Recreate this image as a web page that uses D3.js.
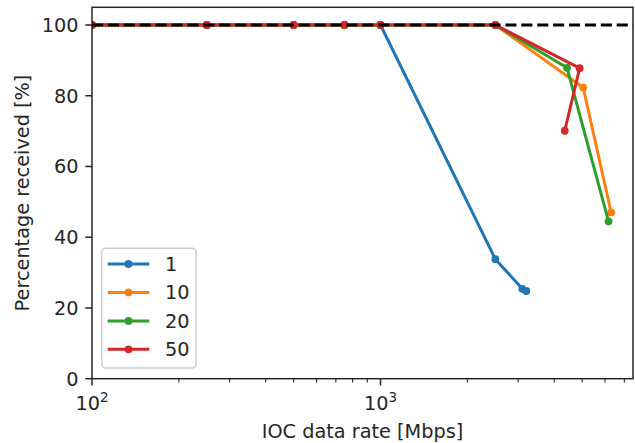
<!DOCTYPE html>
<html><head><meta charset="utf-8">
<script src="https://cdn.jsdelivr.net/npm/d3@7"></script>
<style>body{margin:0;background:#fff}svg{display:block}text{font-family:"DejaVu Sans",sans-serif;fill:#262626}</style>
</head><body><svg id="c" width="635" height="443"></svg>
<script>
const seriesNames = ["1", "10", "20", "50"];
const colors = ["#1f77b4", "#ff7f0e", "#2ca02c", "#d62728"];
const x1 = [100, 250, 500, 750, 1000, 2500, 3100, 3200];
const y1 = [100, 100, 100, 100, 100, 33.8, 25.4, 24.8];
const x10 = [100, 250, 500, 750, 1000, 2500, 5040, 6300];
const y10 = [100, 100, 100, 100, 100, 100, 82.3, 47.0];
const x20 = [100, 250, 500, 750, 1000, 2500, 4430, 6170];
const y20 = [100, 100, 100, 100, 100, 100, 87.9, 44.5];
const x50 = [100, 250, 500, 750, 1000, 2500, 4900, 4350];
const y50 = [100, 100, 100, 100, 100, 100, 87.8, 70.1];
const yTicks = [0, 20, 40, 60, 80, 100];
const xMajor = [100, 1000];
const xMinor = [200, 300, 400, 500, 600, 700, 800, 900, 2000, 3000, 4000, 5000, 6000, 7000];
const refLine = 100;

const series = [[x1, y1], [x10, y10], [x20, y20], [x50, y50]];
const fs = 19.3;
const L = 92, R = 633, T = 7.3, B = 378.7;
const svg = d3.select("#c");
const x = d3.scaleLog().domain([100, 7500]).range([L, R]);
const y = d3.scaleLinear().domain([0, 105]).range([B, T]);

svg.append("defs").append("clipPath").attr("id", "clip")
  .append("rect").attr("x", L).attr("y", T).attr("width", R - L).attr("height", B - T);

const g = svg.append("g").attr("clip-path", "url(#clip)");
const line = d3.line().x(d => x(d[0])).y(d => y(d[1]));
series.forEach((s, i) => {
  const pts = s[0].map((v, j) => [v, s[1][j]]);
  g.append("path").attr("d", line(pts)).attr("fill", "none")
    .attr("stroke", colors[i]).attr("stroke-width", 3).attr("stroke-linejoin", "round").attr("stroke-linecap", "butt");
  g.selectAll(null).data(pts).enter().append("circle")
    .attr("cx", d => x(d[0])).attr("cy", d => y(d[1])).attr("r", 3.9).attr("fill", colors[i]);
});
g.append("line").attr("x1", L).attr("x2", R).attr("y1", y(refLine)).attr("y2", y(refLine))
  .attr("stroke", "#000").attr("stroke-width", 3).attr("stroke-dasharray", "11.1,4.8");

// spines
svg.append("rect").attr("x", L).attr("y", T).attr("width", R - L).attr("height", B - T)
  .attr("fill", "none").attr("stroke", "#262626").attr("stroke-width", 1.5);

// y axis
const ya = svg.append("g");
yTicks.forEach(t => {
  ya.append("line").attr("x1", L - 6.75).attr("x2", L).attr("y1", y(t)).attr("y2", y(t)).attr("stroke", "#262626").attr("stroke-width", 1.5);
  ya.append("text").attr("x", L - 13.5).attr("y", y(t)).attr("dy", "0.36em").attr("text-anchor", "end").attr("font-size", fs).text(d3.format("d")(t));
});
// x axis
const xa = svg.append("g");
xMinor.forEach(t => {
  xa.append("line").attr("x1", x(t)).attr("x2", x(t)).attr("y1", B).attr("y2", B + 3.9).attr("stroke", "#262626").attr("stroke-width", 1.1);
});
xMajor.forEach(t => {
  xa.append("line").attr("x1", x(t)).attr("x2", x(t)).attr("y1", B).attr("y2", B + 6.75).attr("stroke", "#262626").attr("stroke-width", 1.5);
  const e = Math.round(Math.log10(t));
  const tx = xa.append("text").attr("x", x(t)).attr("y", 409.5).attr("text-anchor", "middle").attr("font-size", fs);
  tx.append("tspan").text("10");
  tx.append("tspan").attr("font-size", fs * 0.7).attr("dy", -8).text(String(e));
});
svg.append("text").attr("x", (L + R) / 2).attr("y", 437.5).attr("text-anchor", "middle").attr("font-size", fs).text("IOC data rate [Mbps]");
svg.append("text").attr("transform", `translate(29,${(T + B) / 2}) rotate(-90)`).attr("text-anchor", "middle").attr("font-size", fs).text("Percentage received [%]");

// legend
const lg = svg.append("g");
lg.append("rect").attr("x", 101.7).attr("y", 248.3).attr("width", 94.3).attr("height", 119.7).attr("rx", 4)
  .attr("fill", "#fff").attr("fill-opacity", 0.8).attr("stroke", "#cccccc").attr("stroke-width", 1.5);
seriesNames.forEach((n, i) => {
  const ry = 264 + i * 28.45;
  lg.append("line").attr("x1", 107.7).attr("x2", 149.3).attr("y1", ry).attr("y2", ry).attr("stroke", colors[i]).attr("stroke-width", 3);
  lg.append("circle").attr("cx", 128.5).attr("cy", ry).attr("r", 3.9).attr("fill", colors[i]);
  lg.append("text").attr("x", 165).attr("y", ry).attr("dy", "0.36em").attr("font-size", fs).text(n);
});
</script></body></html>
